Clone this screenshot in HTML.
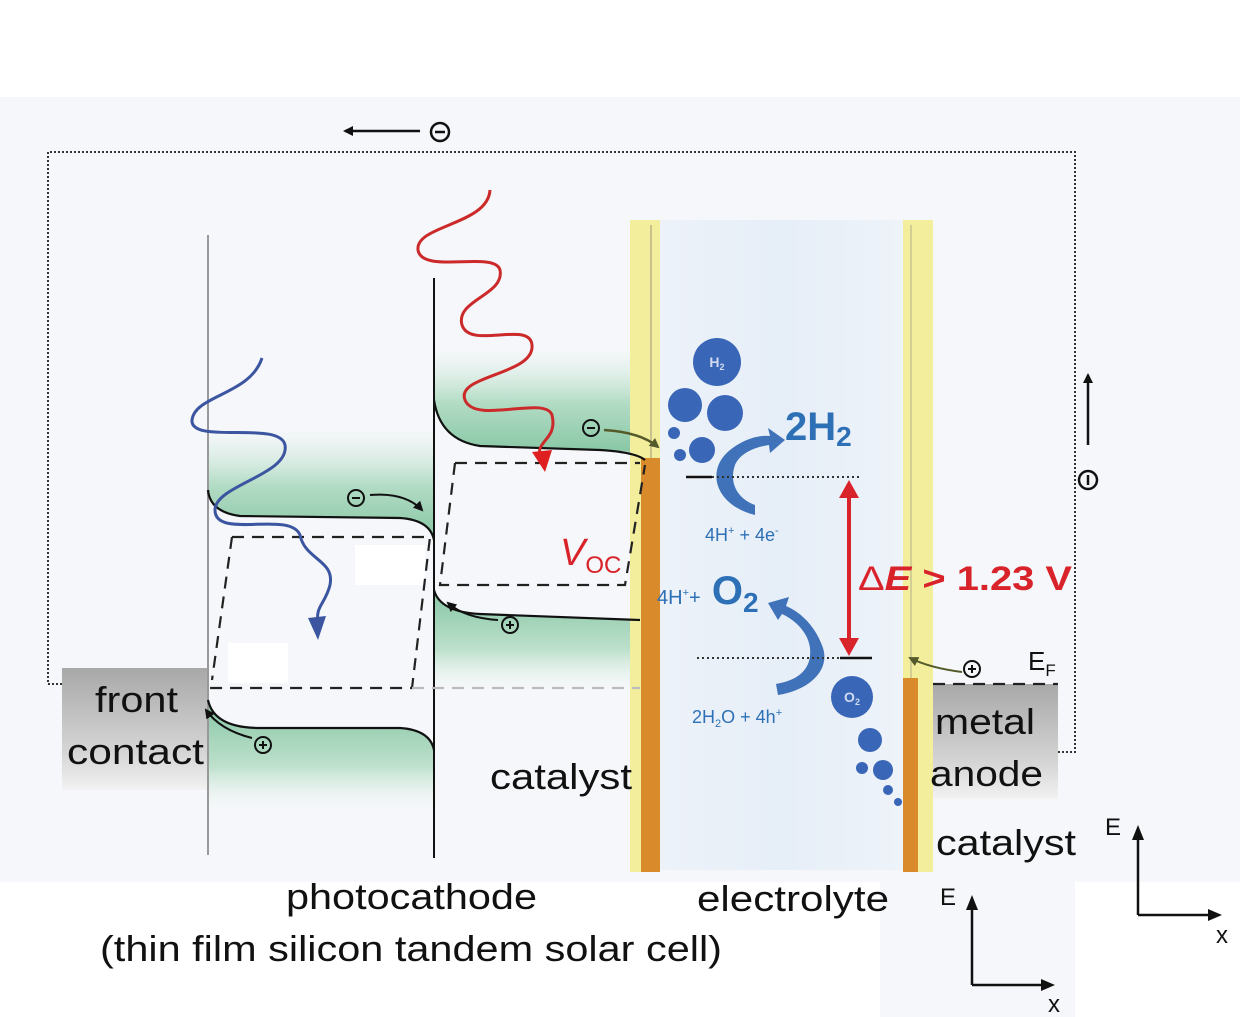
<!DOCTYPE html>
<html><head><meta charset="utf-8"><style>
html,body{margin:0;padding:0;background:#fff}
svg{display:block}
text{font-family:"Liberation Sans",sans-serif}
</style></head><body>
<svg width="1240" height="1017" viewBox="0 0 1240 1017" xmlns="http://www.w3.org/2000/svg">
<defs>
<linearGradient id="gUp" x1="0" y1="0" x2="0" y2="1"><stop offset="0" stop-color="#d5ecdf" stop-opacity="0"/><stop offset="0.5" stop-color="#b3dcc5"/><stop offset="1" stop-color="#86c6a4"/></linearGradient>
<linearGradient id="gDn" x1="0" y1="0" x2="0" y2="1"><stop offset="0" stop-color="#86c6a4"/><stop offset="0.6" stop-color="#bde0cc"/><stop offset="1" stop-color="#eaf4ee" stop-opacity="0"/></linearGradient>
<linearGradient id="gray" x1="0" y1="0" x2="0" y2="1"><stop offset="0" stop-color="#a8a8a8"/><stop offset="0.7" stop-color="#d6d6d6"/><stop offset="1" stop-color="#f2f2f2"/></linearGradient>
<linearGradient id="elec" x1="0" y1="0" x2="1" y2="0"><stop offset="0" stop-color="#edf2f9"/><stop offset="0.5" stop-color="#e6eef8"/><stop offset="1" stop-color="#eef3f9"/></linearGradient>
<marker id="ah" markerWidth="10" markerHeight="10" refX="8" refY="5" orient="auto" markerUnits="userSpaceOnUse"><path d="M0,0 L10,5 L0,10 Z" fill="#111"/></marker>
<marker id="ahg" markerWidth="10" markerHeight="10" refX="8" refY="5" orient="auto" markerUnits="userSpaceOnUse"><path d="M0,0 L10,5 L0,10 Z" fill="#555a2a"/></marker>
</defs>
<rect x="0" y="97" width="1240" height="785" fill="#f5f7fa"/>
<rect x="880" y="870" width="195" height="147" fill="#f5f7fa"/>
<rect x="660" y="220" width="243" height="650" fill="url(#elec)"/>
<path d="M208,430 L434,430 L434,540 Q430,518 400,518 L240,516 Q210,512 208,490 Z" fill="url(#gUp)"/>
<path d="M208,700 Q214,728 260,728 L400,728 Q430,730 434,750 L434,810 L208,810 Z" fill="url(#gDn)"/>
<path d="M434,350 L640,350 L640,455 Q630,450 600,450 L480,446 Q440,440 434,400 Z" fill="url(#gUp)"/>
<path d="M434,590 Q440,612 480,614 L640,620 L640,690 L434,690 Z" fill="url(#gDn)"/>
<rect x="355" y="545" width="70" height="40" fill="#fff"/>
<rect x="228" y="643" width="60" height="40" fill="#fff"/>
<rect x="62" y="668" width="146" height="122" fill="url(#gray)"/>
<rect x="933" y="684" width="125" height="115" fill="url(#gray)"/>
<rect x="630" y="220" width="30" height="652" fill="#f2ee9c"/>
<rect x="903" y="220" width="30" height="652" fill="#f2ee9c"/>
<line x1="651" y1="225" x2="651" y2="870" stroke="#b9b48a" stroke-width="1.5"/>
<line x1="911" y1="225" x2="911" y2="680" stroke="#c8c290" stroke-width="1.5"/>
<rect x="641" y="458" width="19" height="414" fill="#d98a2a"/>
<rect x="903" y="678" width="15" height="194" fill="#d98a2a"/>
<path d="M62,684 L48,684 L48,152 L1075,152 L1075,752 L1058,752" fill="none" stroke="#333" stroke-width="2" stroke-dasharray="2,2"/>
<line x1="420" y1="131" x2="345" y2="131" stroke="#111" stroke-width="2.5" marker-end="url(#ah)"/>
<circle cx="440" cy="132" r="9" fill="none" stroke="#111" stroke-width="2.5"/><line x1="435" y1="132" x2="445" y2="132" stroke="#111" stroke-width="2.5"/>
<line x1="1088" y1="445" x2="1088" y2="375" stroke="#111" stroke-width="2.5" marker-end="url(#ah)"/>
<circle cx="1088" cy="480" r="9" fill="none" stroke="#111" stroke-width="2.5"/><line x1="1088" y1="475" x2="1088" y2="485" stroke="#111" stroke-width="2.5"/>
<line x1="208" y1="235" x2="208" y2="855" stroke="#999" stroke-width="2"/>
<line x1="434" y1="278" x2="434" y2="858" stroke="#111" stroke-width="2"/>
<g fill="none" stroke="#111" stroke-width="2.2">
<path d="M208,490 Q210,512 240,516 L400,518 Q430,520 434,540"/>
<path d="M208,700 Q214,728 260,728 L400,728 Q430,730 434,750"/>
<path d="M434,400 Q440,440 480,446 L600,450 Q635,452 645,460"/>
<path d="M434,590 Q440,612 480,614 L640,620"/>
</g>
<g fill="none" stroke="#222" stroke-width="2.2" stroke-dasharray="12,8">
<path d="M232,537 L430,537 L412,688 L210,688 M232,537 L212,680"/>
<path d="M455,463 L640,463 M455,463 L440,585 L625,585 L645,465"/>
</g>
<line x1="412" y1="688" x2="640" y2="688" stroke="#bbb" stroke-width="2.2" stroke-dasharray="12,8"/>
<line x1="933" y1="684" x2="1058" y2="684" stroke="#222" stroke-width="2.2" stroke-dasharray="12,8"/>
<path d="M262,358 C250,395 195,395 192,420 C190,445 280,420 285,445 C290,475 215,485 215,510 C215,540 290,510 300,535 C305,560 335,560 330,585 C325,605 315,605 318,625" fill="none" stroke="#3b55a0" stroke-width="3"/>
<path d="M308,618 L318,640 L326,616 Z" fill="#3b55a0"/>
<path d="M490,190 C488,225 415,225 418,250 C422,275 495,250 500,270 C505,295 455,300 462,325 C470,350 530,320 532,345 C535,375 455,375 465,400 C475,425 545,395 552,415 C558,440 535,440 540,458" fill="none" stroke="#cc2a2a" stroke-width="3"/>
<path d="M532,452 L545,472 L552,450 Z" fill="#e02020"/>
<g stroke="#111" stroke-width="2" fill="none">
<circle cx="356" cy="498" r="8"/><line x1="352" y1="498" x2="360" y2="498"/>
<path d="M370,495 Q405,492 422,510" marker-end="url(#ah)"/>
<circle cx="510" cy="625" r="8"/><line x1="506" y1="625" x2="514" y2="625"/><line x1="510" y1="621" x2="510" y2="629"/>
<path d="M498,620 Q465,618 448,603" marker-end="url(#ah)"/>
<circle cx="263" cy="745" r="8"/><line x1="259" y1="745" x2="267" y2="745"/><line x1="263" y1="741" x2="263" y2="749"/>
<path d="M252,738 Q220,730 206,710" marker-end="url(#ah)"/>
<circle cx="591" cy="428" r="8"/><line x1="587" y1="428" x2="595" y2="428"/>
<circle cx="972" cy="669" r="8"/><line x1="968" y1="669" x2="976" y2="669"/><line x1="972" y1="665" x2="972" y2="673"/>
</g>
<path d="M604,430 Q640,432 658,447" fill="none" stroke="#555a2a" stroke-width="2.5" marker-end="url(#ahg)"/>
<path d="M962,672 Q930,668 910,658" fill="none" stroke="#555a2a" stroke-width="2" marker-end="url(#ahg)"/>
<g fill="#3a66b8">
<circle cx="717" cy="362" r="24"/><circle cx="685" cy="405" r="17"/><circle cx="725" cy="413" r="18"/><circle cx="674" cy="433" r="6"/><circle cx="702" cy="450" r="13"/><circle cx="680" cy="455" r="6"/>
<circle cx="852" cy="697" r="21"/><circle cx="870" cy="740" r="12"/><circle cx="862" cy="768" r="6"/><circle cx="883" cy="770" r="10"/><circle cx="888" cy="790" r="5"/><circle cx="898" cy="802" r="4"/>
</g>
<text x="717" y="367" font-size="14" fill="#cfdcf0" text-anchor="middle" font-weight="bold">H<tspan font-size="9" dy="3">2</tspan></text>
<text x="852" y="702" font-size="14" fill="#cfdcf0" text-anchor="middle" font-weight="bold">O<tspan font-size="9" dy="3">2</tspan></text>
<path d="M755,515 C715,505 705,470 730,450 C745,438 760,435 770,436 L768,428 L785,440 L770,453 L769,445 C755,447 740,453 735,465 C728,485 740,500 755,505 Z" fill="#3f72b8"/>
<path d="M778,695 C810,690 830,670 823,648 C815,625 800,612 786,606 L789,597 L768,603 L778,620 L782,614 C795,620 808,632 810,648 C812,668 800,680 776,684 Z" fill="#3f72b8"/>
<line x1="686" y1="477" x2="712" y2="477" stroke="#111" stroke-width="2.5"/>
<line x1="712" y1="477" x2="862" y2="477" stroke="#333" stroke-width="2" stroke-dasharray="2,3"/>
<line x1="697" y1="658" x2="840" y2="658" stroke="#333" stroke-width="2" stroke-dasharray="2,3"/>
<line x1="840" y1="658" x2="872" y2="658" stroke="#111" stroke-width="2.5"/>
<line x1="849" y1="495" x2="849" y2="640" stroke="#d9232a" stroke-width="4"/>
<path d="M839,498 L849,480 L859,498 Z M839,638 L849,656 L859,638 Z" fill="#d9232a"/>
<text x="785" y="440" font-size="40" font-weight="bold" fill="#2d70b5">2H<tspan font-size="28" dy="6">2</tspan></text>
<text x="705" y="541" font-size="18" fill="#2d70b5">4H<tspan font-size="11" dy="-7">+</tspan><tspan dy="7"> + 4e</tspan><tspan font-size="11" dy="-7">-</tspan></text>
<text x="657" y="604" font-size="20" fill="#2d70b5">4H<tspan font-size="11" dy="-8">+</tspan><tspan dy="8">+</tspan><tspan font-size="40" font-weight="bold"> O</tspan><tspan font-size="28" font-weight="bold" dy="8">2</tspan></text>
<text x="692" y="723" font-size="18" fill="#2d70b5">2H<tspan font-size="11" dy="4">2</tspan><tspan dy="-4">O + 4h</tspan><tspan font-size="11" dy="-7">+</tspan></text>
<text x="858" y="590" font-size="34" font-weight="bold" fill="#d9232a" textLength="214" lengthAdjust="spacingAndGlyphs"><tspan font-weight="normal">Δ</tspan><tspan font-style="italic">E</tspan> &gt; 1.23 V</text>
<text x="560" y="565" font-size="38" font-style="italic" fill="#d9232a">V<tspan font-size="24" font-style="normal" dy="8">OC</tspan></text>
<text x="1028" y="670" font-size="26" fill="#111">E<tspan font-size="17" dy="6">F</tspan></text>
<g font-size="36" fill="#111">
<text x="95" y="712" textLength="83" lengthAdjust="spacingAndGlyphs">front</text>
<text x="67" y="764" textLength="137" lengthAdjust="spacingAndGlyphs">contact</text>
<text x="935" y="734" textLength="100" lengthAdjust="spacingAndGlyphs">metal</text>
<text x="930" y="786" textLength="113" lengthAdjust="spacingAndGlyphs">anode</text>
<text x="490" y="789" textLength="142" lengthAdjust="spacingAndGlyphs">catalyst</text>
<text x="936" y="855" textLength="140" lengthAdjust="spacingAndGlyphs">catalyst</text>
<text x="286" y="909" textLength="251" lengthAdjust="spacingAndGlyphs">photocathode</text>
<text x="100" y="961" textLength="622" lengthAdjust="spacingAndGlyphs">(thin film silicon tandem solar cell)</text>
<text x="697" y="911" textLength="192" lengthAdjust="spacingAndGlyphs">electrolyte</text>
</g>
<g stroke="#111" stroke-width="2.5" fill="none">
<path d="M1138,915 L1138,835 M1138,915 L1212,915"/>
<path d="M972,985 L972,905 M972,985 L1045,985"/>
</g>
<path d="M1132,840 L1138,825 L1144,840 Z M1208,909 L1222,915 L1208,921 Z M966,910 L972,895 L978,910 Z M1041,979 L1055,985 L1041,991 Z" fill="#111"/>
<text x="1105" y="835" font-size="24" fill="#111">E</text>
<text x="1216" y="943" font-size="24" fill="#111">x</text>
<text x="940" y="905" font-size="24" fill="#111">E</text>
<text x="1048" y="1012" font-size="24" fill="#111">x</text>
</svg>
</body></html>
